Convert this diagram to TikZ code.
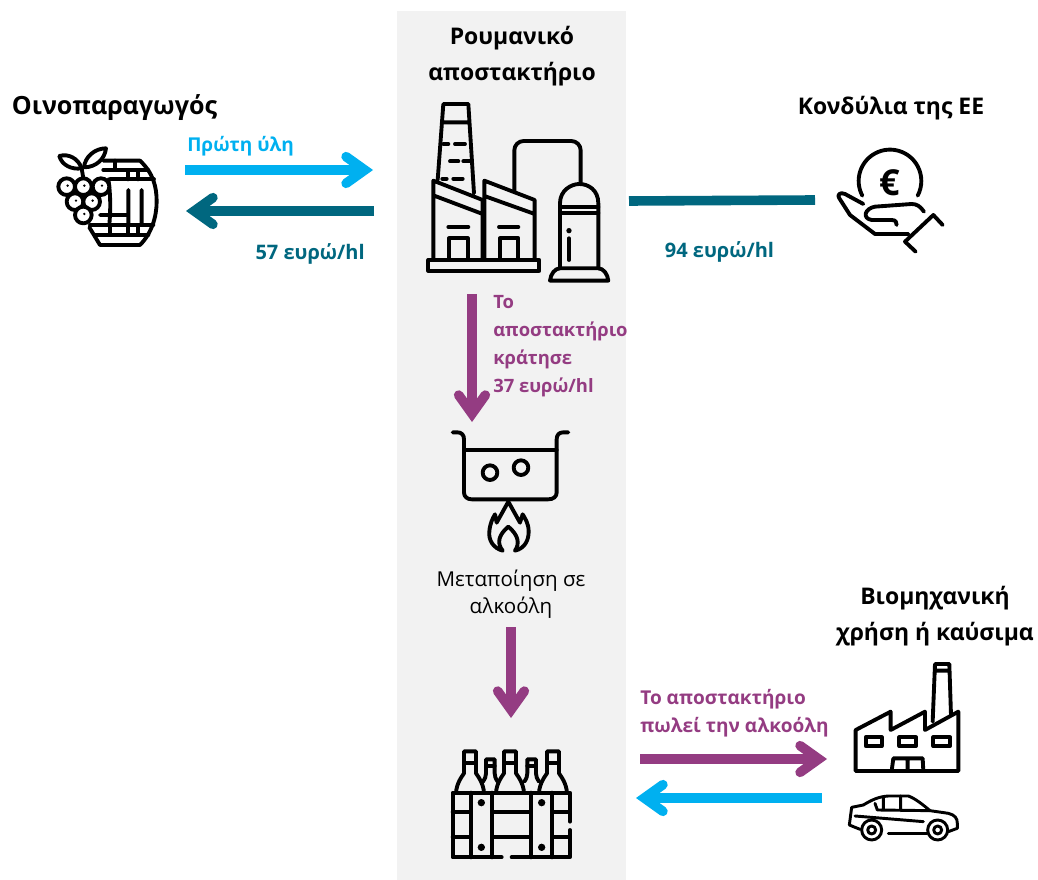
\documentclass[tikz,border=0pt]{standalone}
\usepackage{fontspec}
\setmainfont{Open Sans}
\usetikzlibrary{arrows.meta}
\definecolor{lightblue}{HTML}{00B0F0}
\definecolor{petrol}{HTML}{00677F}
\definecolor{plum}{HTML}{943C82}
\definecolor{panelgrey}{HTML}{F2F2F2}
\tikzset{
  flow/.style={line width=7.2pt,-{Straight Barb[length=14pt,width=20pt,line cap=round,line join=miter]}},
  icon/.style={line width=2.9pt,line cap=round,line join=round},
  head/.style={font=\bfseries\fontsize{17.2}{27}\selectfont,align=center},
  lab/.style={font=\bfseries\fontsize{14.3}{21}\selectfont,align=left}
}
\begin{document}
\begin{tikzpicture}[x=0.75pt,y=-0.75pt]
  \useasboundingbox (0,0) rectangle (1038,880);
  \fill[panelgrey] (397,11) rectangle (626,880);

  % arrow ends
  \coordinate (rawA) at (185,170);
  \coordinate (rawB) at (373,170);
  \coordinate (payA) at (374,211);
  \coordinate (payB) at (186,211);
  \coordinate (fundA) at (815,200);
  \coordinate (fundB) at (629,201);
  \coordinate (keepA) at (472,294);
  \coordinate (keepB) at (472,422);
  \coordinate (procA) at (511,627);
  \coordinate (procB) at (511,718);
  \coordinate (sellA) at (640,759);
  \coordinate (sellB) at (827,759);
  \coordinate (backA) at (822,798);
  \coordinate (backB) at (636,798);

  \draw[flow,lightblue] (rawA) -- (rawB);
  \draw[flow,petrol] (payA) -- (payB);
  \draw[petrol,line width=7.2pt] (fundB) -- (fundA);
  \draw[flow,plum] (keepA) -- (keepB);
  \draw[flow,plum] (procA) -- (procB);
  \draw[flow,plum] (sellA) -- (sellB);
  \draw[flow,lightblue] (backA) -- (backB);

  % texts
  \node[head] (distillery) at (512,56) {Ρουμανικό\\αποστακτήριο};
  \node[head,font=\bfseries\fontsize{18.8}{27}\selectfont] (winemaker) at (114.5,108) {Οινοπαραγωγός};
  \node[head] (funds) at (891,108) {Κονδύλια της ΕΕ};
  \node[head] (industry) at (935,616) {Βιομηχανική\\χρήση ή καύσιμα};
  \node[lab,lightblue,anchor=west,inner sep=0pt] (raw) at (187,146) {Πρώτη ύλη};
  \node[lab,petrol,anchor=east,inner sep=0pt,font=\bfseries\fontsize{15}{21}\selectfont] (price) at (365,254) {57 ευρώ/hl};
  \node[lab,petrol,inner sep=0pt,font=\bfseries\fontsize{15}{21}\selectfont] (aid) at (719.5,252) {94 ευρώ/hl};
  \node[lab,plum,anchor=north west,inner sep=0pt,font=\bfseries\fontsize{13.8}{21}\selectfont] (kept) at (493,295) {Το\\αποστακτήριο\\κράτησε\\37 ευρώ/hl};
  \node[font=\fontsize{15.4}{20.5}\selectfont,align=center] (process) at (511,594) {Μεταποίηση σε\\αλκοόλη};
  \node[lab,plum,anchor=west,inner sep=0pt] (sells) at (640,713) {Το αποστακτήριο\\πωλεί την αλκοόλη};

  % barrel and grapes
  \begin{scope}[shift={(0,90)},scale=0.3333,icon]
    \draw (310,212) -- (420,212) .. controls (460,250) and (470,290) .. (470,335) .. controls (470,380) and (455,430) .. (420,465) -- (300,465) -- (268,412);
    \draw (310,240) -- (445,240) (330,268) -- (462,268) (270,405) -- (460,405) (285,435) -- (445,435);
    \draw (345,212) -- (345,240) (385,240) -- (385,268) (415,240) -- (415,268);
    \draw (385,300) -- (385,405) (425,300) -- (425,405) (300,375) -- (385,375) (325,268) .. controls (332,310) and (332,360) .. (328,405);
    \draw (330,405) -- (330,435) (385,405) -- (385,435) (415,405) -- (415,435);
    \draw (250,265) -- (245,235) (178,198) .. controls (205,190) and (235,205) .. (245,235) .. controls (215,240) and (185,225) .. (178,198);
    \draw (252,232) .. controls (255,200) and (285,175) .. (318,175) .. controls (315,205) and (290,232) .. (252,232);
    \foreach \gx/\gy in {200/290,250/290,303/290,225/335,275/335,250/375} {
      \draw[fill=white] (\gx,\gy) circle (25);
      \fill (\gx+3,\gy-3) circle (4);
    }
  \end{scope}

  % distillery
  \begin{scope}[shift={(400,90)},scale=0.3333,icon]
    \draw (113,270) -- (130,42) -- (205,42) -- (222,310) (130,97) -- (205,97);
    \draw (130,162) -- (145,162) (165,162) -- (195,162) (150,214) -- (175,214) (190,214) -- (212,214) (127,266) -- (140,266) (160,266) -- (188,266);
    \draw (100,510) -- (100,272) -- (248,330) -- (248,510) (105,318) -- (248,372);
    \draw (253,510) -- (253,272) -- (404,330) -- (404,510) (253,318) -- (404,372);
    \draw (147,510) -- (147,445) -- (203,445) -- (203,510) (300,510) -- (300,445) -- (355,445) -- (355,510);
    \draw (145,411) -- (205,411) (297,411) -- (355,411);
    \draw (85,510) rectangle (418,542);
    \draw[rounded corners=7pt] (343,305) -- (343,153) -- (542,153) -- (542,280);
    \draw (480,535) -- (480,340) .. controls (480,300) and (515,282) .. (538,282) .. controls (565,282) and (595,300) .. (595,340) -- (595,535);
    \draw (480,350) -- (595,350) (480,368) -- (595,368);
    \fill (507,422) circle (8);
    \draw (507,445) -- (507,510);
    \draw (450,572) .. controls (452,552) and (465,535) .. (480,535) -- (595,535) .. controls (610,535) and (623,552) .. (625,572) -- cycle;
  \end{scope}

  % hand with coin
  \begin{scope}[shift={(800,130)},scale=0.3333,icon]
    \draw (187,197) arc[start angle=152,end angle=388,radius=94];
    \node[font=\bfseries\fontsize{27}{27}\selectfont,inner sep=0pt] (euro) at (270,157) {€};
    \draw (372,245) .. controls (360,228) and (350,222) .. (335,222) -- (225,230) .. controls (195,235) and (185,265) .. (215,270) -- (275,270) .. controls (288,270) and (290,278) .. (290,285);
    \draw (190,222) -- (135,192) .. controls (120,185) and (110,195) .. (118,205) -- (150,255) -- (225,312) -- (325,312);
    \draw (347,365) -- (315,335) -- (400,255) -- (428,285);
  \end{scope}

  % pot on flame
  \begin{scope}[shift={(430,420)},scale=0.3333,icon]
    \draw (68,37) -- (82,37) .. controls (95,37) and (102,45) .. (102,58) -- (102,218) .. controls (102,230) and (112,238) .. (125,238) -- (355,238) .. controls (370,238) and (380,230) .. (380,218) -- (380,58) .. controls (380,45) and (387,37) .. (400,37) -- (415,37);
    \draw (102,90) -- (380,90);
    \draw (180,158) circle (22) (273,143) circle (22);
    \draw (218,392) .. controls (190,385) and (175,360) .. (178,335) .. controls (180,310) and (188,295) .. (195,283) -- (200,308) -- (235,245) -- (270,308) -- (278,283) .. controls (285,295) and (296,310) .. (296,335) .. controls (296,360) and (285,385) .. (255,392);
    \draw (218,392) .. controls (200,370) and (205,345) .. (235,320) .. controls (265,345) and (270,370) .. (255,392);
  \end{scope}

  % crate of bottles
  \begin{scope}[shift={(430,740)},scale=0.3333,icon]
    \draw (215,352) -- (68,352) -- (68,158) -- (420,158) -- (420,245) (420,270) -- (420,352) -- (245,352);
    \foreach \vx in {122,187,303,367} \draw (\vx,158) -- (\vx,352);
    \draw (68,215) -- (122,215) (68,292) -- (122,292) (187,215) -- (303,215) (187,292) -- (303,292) (367,215) -- (420,215) (367,292) -- (420,292);
    \foreach \dx/\dy in {154/188,335/188,154/322,335/322} \fill (\dx,\dy) circle (11);
    \foreach \bx in {120,240,369} {
      \draw (\bx-42,158) .. controls (\bx-40,130) and (\bx-25,110) .. (\bx-18,100) -- (\bx-18,34) -- (\bx+18,34) -- (\bx+18,100) .. controls (\bx+25,110) and (\bx+40,130) .. (\bx+42,158);
      \draw (\bx-18,68) -- (\bx+18,68);
    }
    \foreach \bx in {181,305} {
      \draw (\bx-22,125) .. controls (\bx-16,115) and (\bx-13,110) .. (\bx-13,100) -- (\bx-13,58) -- (\bx+13,58) -- (\bx+13,100) .. controls (\bx+13,110) and (\bx+16,115) .. (\bx+22,125);
      \draw (\bx-13,78) -- (\bx+13,78);
    }
  \end{scope}

  % factory and car
  \begin{scope}[shift={(820,650)},scale=0.3333,icon]
    \draw (107,363) -- (107,240) -- (212,185) -- (212,240) -- (315,185) -- (315,240) -- (415,185) -- (415,363) -- cycle;
    \draw (338,215) -- (345,42) -- (388,42) -- (393,195) (345,62) -- (388,62);
    \draw (137,262) rectangle (185,288) (238,262) rectangle (288,288) (340,262) rectangle (390,288);
    \draw (215,363) -- (220,325) -- (308,325) -- (310,363) (263,325) -- (263,363);
    \begin{scope}[line width=2.2pt]
      \draw (120,538) -- (88,525) -- (95,472) -- (130,465) .. controls (155,450) and (175,440) .. (205,438) -- (265,438) .. controls (285,445) and (310,465) .. (330,482) -- (385,490) .. controls (405,495) and (412,505) .. (412,520) -- (412,535) -- (385,545);
      \draw (205,550) -- (320,550);
      \draw (155,540) circle (30) (155,540) circle (12) (353,540) circle (30) (353,540) circle (12);
      \draw (190,440) -- (190,480) (242,438) -- (242,482) (165,460) -- (172,480) -- (330,482);
      \draw (105,498) -- (310,515);
    \end{scope}
  \end{scope}
\end{tikzpicture}
\end{document}
